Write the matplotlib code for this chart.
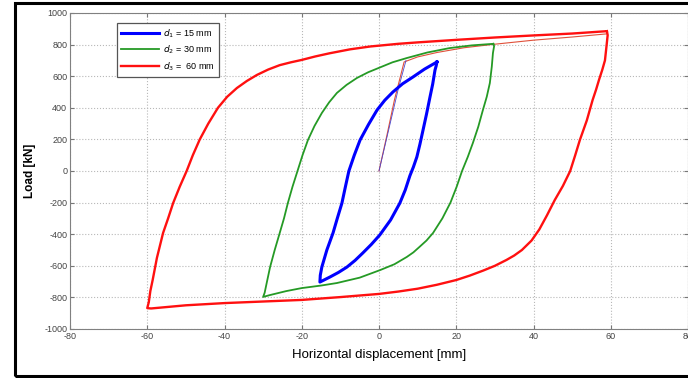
import matplotlib.pyplot as plt
from matplotlib.patches import Rectangle

plt.rcParams['font.family'] = ['Liberation Sans', 'DejaVu Sans']
plt.rcParams['axes.unicode_minus'] = False

# d3 = 60 mm, hysteresis loop
red_x = [59, 59.2, 58.9, 58.5, 57.8, 57, 56.2, 55.3, 53.8, 52, 50.8, 49.5,
         47.6, 45.5, 43.5, 41.5, 39.5, 37, 35, 33, 30, 27, 23.5, 20, 15, 10,
         5, 0, -10, -20, -30, -40, -50, -59, -60, -59.6, -59.2, -58.6, -57.5,
         -55.9, -54.6, -53.3, -51.6, -49.8, -48.2, -46.4, -44.2, -41.7, -39.3,
         -36.8, -34.2, -31.6, -28.7, -25.7, -22.8, -20, -16.5, -12.8, -7.5,
         -2.3, 5, 10, 20, 30, 40, 50, 59]
red_y = [885, 860, 790, 700, 640, 580, 515, 449, 320, 196, 100, 0, -95, -184,
         -280, -370, -440, -500, -535, -563, -600, -630, -662, -690, -720,
         -745, -763, -778, -798, -816, -826, -836, -850, -870, -868, -830,
         -760, -690, -550, -392, -300, -203, -100, 0, 100, 200, 300, 400, 470,
         525, 570, 608, 642, 670, 688, 703, 725, 745, 770, 788, 805, 814, 830,
         845, 858, 870, 885]
# first loading branch of the d3 test
red0_x = [0, 2, 4, 6.5, 10, 15, 22, 29, 40, 50, 59]
red0_y = [0, 220, 450, 690, 722, 750, 780, 800, 828, 848, 868]

# d2 = 30 mm
green_x = [29.6, 29.8, 29.5, 29.2, 28.7, 27.9, 26.9, 25.7, 24.3, 23, 21.5,
           20.1, 18.5, 16.4, 14, 12.3, 10.5, 8.9, 7.2, 4, 0.3, -5, -10.9, -15,
           -20, -24, -28.2, -30, -29.6, -29, -28.2, -27, -25.7, -24.6, -23.6,
           -22.4, -21.1, -19.8, -18.4, -16.7, -14.8, -12.9, -10.9, -8.4, -5.7,
           -2.8, 0.2, 3.5, 7.2, 12.5, 18.3, 24, 29.6]
green_y = [805, 790, 747, 660, 557, 470, 386, 280, 177, 90, 0, -100, -200,
           -300, -392, -440, -480, -515, -544, -590, -627, -675, -709, -725,
           -741, -760, -785, -797, -770, -700, -608, -500, -392, -300, -203,
           -100, 0, 100, 196, 285, 367, 435, 494, 545, 589, 625, 655, 688, 715,
           750, 778, 795, 805]

# d1 = 15 mm
blue_x = [15, 14.8, 14.5, 13.9, 13.2, 12.3, 11.4, 10.6, 9.8, 8.9, 8, 6.8, 5.4,
          3, 0.2, -2, -4.2, -6.2, -8.3, -10.5, -12.7, -15.3, -15.2, -14.8,
          -13.5, -11.9, -10.8, -9.6, -8.7, -7.8, -6.4, -4.9, -2.7, -0.5, 1.5,
          3.6, 6.1, 8.8, 11.8, 15]
blue_y = [690, 665, 639, 550, 468, 360, 259, 170, 89, 25, -30, -120, -203,
          -310, -405, -465, -519, -566, -608, -642, -671, -703, -660, -608,
          -500, -392, -300, -203, -100, 0, 100, 196, 295, 386, 448, 500, 552,
          595, 645, 690]
blue0_x = [0, 2.5, 5, 7]
blue0_y = [0, 260, 520, 700]

fig = plt.figure(figsize=(6.88, 3.78), dpi=100)
ax = fig.add_axes([70/688, 1-329/378, 618/688, 316/378])

ax.plot(red0_x, red0_y, color='#e0503a', lw=0.8)
ax.plot(blue0_x, blue0_y, color='#4a4ad0', lw=0.6)
ax.plot(blue_x, blue_y, color='#0000ff', lw=2.2, label='$d_1$ = 15 mm')
ax.plot(green_x, green_y, color='#259a25', lw=1.3, label='$d_2$ = 30 mm')
ax.plot(red_x, red_y, color='#ff1010', lw=1.7, label='$d_3$ =  60 mm')

ax.set_xlim(-80, 80)
ax.set_ylim(-1000, 1000)
ax.set_xticks(range(-80, 81, 20))
ax.set_yticks(range(-1000, 1001, 200))
ax.grid(True, linestyle=':', color='#b8b8b8', lw=0.8)
ax.tick_params(direction='in', top=True, right=True, labelsize=6.5,
               labelcolor='#444444', color='#777777', length=3, pad=2)
for s in ax.spines.values():
    s.set_color('#808080')

ax.set_xlabel('Horizontal displacement [mm]', fontsize=9.5, labelpad=6)
ax.set_ylabel('Load [kN]', fontsize=8.5, fontweight='bold', labelpad=6)

leg = ax.legend(loc='upper left', bbox_to_anchor=(0.068, 0.984), fontsize=6.5,
                handlelength=4.2, fancybox=False, borderpad=0.5,
                labelspacing=0.45, handletextpad=0.4, framealpha=1)
leg.get_frame().set_edgecolor('#555555')
leg.get_frame().set_linewidth(0.9)

# outer frame of the screenshot
fig.add_artist(Rectangle((15/688, 2/378), 700/688, 373/378, fill=False,
                         edgecolor='black', lw=2.2, transform=fig.transFigure,
                         clip_on=False))

fig.savefig('out.png', dpi=100)
